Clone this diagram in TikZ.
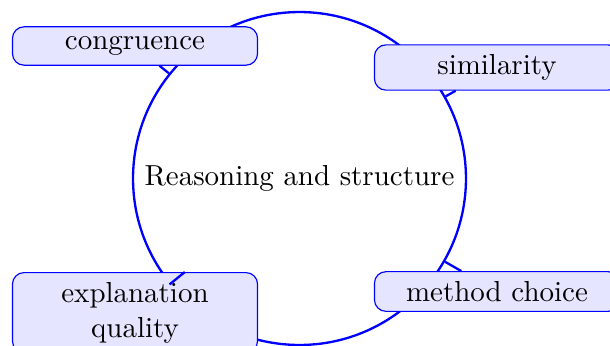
\documentclass[tikz,border=0pt]{standalone}
\begin{document}
\begin{tikzpicture}[x=0.3454pt,y=-0.3454pt,
  topic/.style={draw=blue, fill=blue!10, rounded corners, text width=78pt, align=center, inner sep=3.33pt},
  hub/.style={circle, draw=blue, thick, minimum size=115pt, inner sep=0pt},
  link/.style={draw=blue, thick}]
\useasboundingbox (0,0) rectangle (610,345);
\clip (0,0) rectangle (610,345);
\node[hub] (c) at (299.5,178.5) {Reasoning and structure};
\node[topic] (a) at (135,46) {congruence};
\node[topic] (b) at (497,67.5) {similarity};
\node[topic, anchor=north] (d) at (135,272) {explanation quality};
\node[topic] (e) at (497,291.5) {method choice};
\draw[link] (a) -- (c);
\draw[link] (b) -- (c);
\draw[link] (d) -- (c);
\draw[link] (e) -- (c);
\end{tikzpicture}
\end{document}
